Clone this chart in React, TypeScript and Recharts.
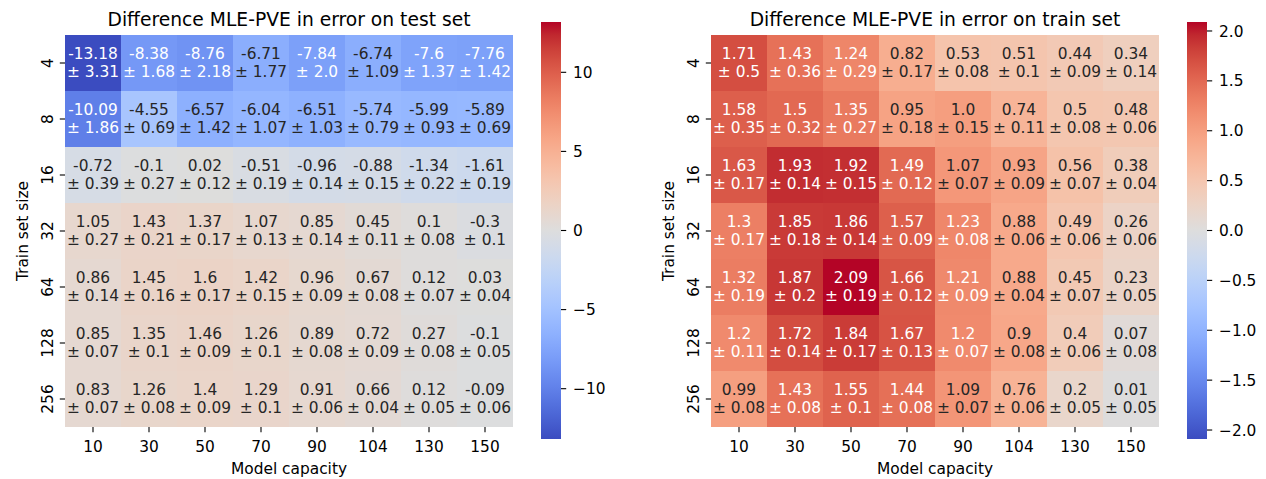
import React from "react";
import { ScatterChart, Scatter, XAxis, YAxis, BarChart, Bar } from "recharts";

const capacities = [10, 30, 50, 70, 90, 104, 130, 150];
const trainSizes = [4, 8, 16, 32, 64, 128, 256];

// rows = train set size, columns = model capacity
const testMean = [
  [-13.18, -8.38, -8.76, -6.71, -7.84, -6.74, -7.6, -7.76],
  [-10.09, -4.55, -6.57, -6.04, -6.51, -5.74, -5.99, -5.89],
  [-0.72, -0.1, 0.02, -0.51, -0.96, -0.88, -1.34, -1.61],
  [1.05, 1.43, 1.37, 1.07, 0.85, 0.45, 0.1, -0.3],
  [0.86, 1.45, 1.6, 1.42, 0.96, 0.67, 0.12, 0.03],
  [0.85, 1.35, 1.46, 1.26, 0.89, 0.72, 0.27, -0.1],
  [0.83, 1.26, 1.4, 1.29, 0.91, 0.66, 0.12, -0.09],
];
const testStd = [
  [3.31, 1.68, 2.18, 1.77, 2.0, 1.09, 1.37, 1.42],
  [1.86, 0.69, 1.42, 1.07, 1.03, 0.79, 0.93, 0.69],
  [0.39, 0.27, 0.12, 0.19, 0.14, 0.15, 0.22, 0.19],
  [0.27, 0.21, 0.17, 0.13, 0.14, 0.11, 0.08, 0.1],
  [0.14, 0.16, 0.17, 0.15, 0.09, 0.08, 0.07, 0.04],
  [0.07, 0.1, 0.09, 0.1, 0.08, 0.09, 0.08, 0.05],
  [0.07, 0.08, 0.09, 0.1, 0.06, 0.04, 0.05, 0.06],
];
const trainMean = [
  [1.71, 1.43, 1.24, 0.82, 0.53, 0.51, 0.44, 0.34],
  [1.58, 1.5, 1.35, 0.95, 1.0, 0.74, 0.5, 0.48],
  [1.63, 1.93, 1.92, 1.49, 1.07, 0.93, 0.56, 0.38],
  [1.3, 1.85, 1.86, 1.57, 1.23, 0.88, 0.49, 0.26],
  [1.32, 1.87, 2.09, 1.66, 1.21, 0.88, 0.45, 0.23],
  [1.2, 1.72, 1.84, 1.67, 1.2, 0.9, 0.4, 0.07],
  [0.99, 1.43, 1.55, 1.44, 1.09, 0.76, 0.2, 0.01],
];
const trainStd = [
  [0.5, 0.36, 0.29, 0.17, 0.08, 0.1, 0.09, 0.14],
  [0.35, 0.32, 0.27, 0.18, 0.15, 0.11, 0.08, 0.06],
  [0.17, 0.14, 0.15, 0.12, 0.07, 0.09, 0.07, 0.04],
  [0.17, 0.18, 0.14, 0.09, 0.08, 0.06, 0.06, 0.06],
  [0.19, 0.2, 0.19, 0.12, 0.09, 0.04, 0.07, 0.05],
  [0.11, 0.14, 0.17, 0.13, 0.07, 0.08, 0.06, 0.08],
  [0.08, 0.08, 0.1, 0.08, 0.07, 0.06, 0.05, 0.05],
];

const testBarTicks = [-10, -5, 0, 5, 10];
const trainBarTicks = [-2, -1.5, -1, -0.5, 0, 0.5, 1, 1.5, 2];

const FONT = "'DejaVu Sans', sans-serif";
const FS = 15.4;
const TITLE_FS = 18.7;
const H = 479;
const TOP = 35;
const PLOT_W = 448;
const PLOT_H = 392;
const Y_AXIS_W = 65;
const X_AXIS_H = 52;
const RIGHT_PAD = 17;

// matplotlib coolwarm, 33 evenly spaced samples
const COOLWARM = [
  [0.2298, 0.2987, 0.7537], [0.2662, 0.3531, 0.8015], [0.3039, 0.4065, 0.845],
  [0.3428, 0.4588, 0.8837], [0.383, 0.5094, 0.9174], [0.4244, 0.5581, 0.9456],
  [0.4667, 0.6046, 0.9682], [0.5096, 0.6483, 0.9848], [0.553, 0.6889, 0.9954],
  [0.5963, 0.7261, 0.9998], [0.6392, 0.7596, 0.9982], [0.6813, 0.789, 0.9904],
  [0.7222, 0.814, 0.9766], [0.7615, 0.8343, 0.9569], [0.7987, 0.8498, 0.9317],
  [0.8335, 0.8602, 0.9011], [0.8654, 0.8654, 0.8654], [0.8978, 0.8489, 0.8209],
  [0.9241, 0.8274, 0.7745], [0.9445, 0.8009, 0.7267], [0.9589, 0.7698, 0.678],
  [0.9673, 0.7341, 0.6288], [0.97, 0.6943, 0.5794], [0.9668, 0.6504, 0.5303],
  [0.958, 0.6028, 0.4818], [0.9437, 0.5518, 0.4342], [0.9239, 0.4973, 0.388],
  [0.899, 0.4396, 0.3432], [0.8692, 0.3783, 0.3003], [0.8346, 0.3129, 0.2593],
  [0.7956, 0.2413, 0.2205], [0.7525, 0.1572, 0.1841], [0.7057, 0.0156, 0.1502],
];

function coolwarm(t: number) {
  const u = Math.max(0, Math.min(1, t)) * 32;
  const i = Math.min(31, Math.floor(u));
  const f = u - i;
  const a = COOLWARM[i];
  const b = COOLWARM[i + 1];
  return [0, 1, 2].map((k) => a[k] + (b[k] - a[k]) * f);
}

const toRgb = (c: number[]) => `rgb(${c.map((v) => Math.round(v * 255)).join(",")})`;

// seaborn picks the annotation colour from the cell luminance
function textColor(c: number[]) {
  const lin = c.map((v) => (v <= 0.03928 ? v / 12.92 : Math.pow((v + 0.055) / 1.055, 2.4)));
  const lum = 0.2126 * lin[0] + 0.7152 * lin[1] + 0.0722 * lin[2];
  return lum > 0.408 ? "#262626" : "#ffffff";
}

const fmt = (v: number) => (Number.isInteger(v) ? v.toFixed(1) : String(v));
const minus = (s: string) => s.replace("-", "\u2212");

function Heatmap({ title, mean, std, left }: any) {
  const vlim = Math.max(...mean.flat().map((v: number) => Math.abs(v)));
  const cells = mean.flatMap((row: number[], i: number) =>
    row.map((m, j) => ({ x: j, y: i, mean: m, std: std[i][j] }))
  );
  const cw = PLOT_W / capacities.length;
  const ch = PLOT_H / trainSizes.length;
  const midX = Y_AXIS_W + PLOT_W / 2;
  const midY = TOP + PLOT_H / 2;
  const colorOf = (v: number) => coolwarm((v + vlim) / (2 * vlim));

  const cellShape = (p: any) => (
    <rect
      x={p.cx - cw / 2}
      y={p.cy - ch / 2}
      width={cw}
      height={ch}
      fill={toRgb(colorOf(p.payload.mean))}
    />
  );

  const labelShape = (p: any) => {
    const fill = textColor(colorOf(p.payload.mean));
    return (
      <text textAnchor="middle" fill={fill} fontSize={FS} fontFamily={FONT}>
        <tspan x={p.cx} y={p.cy - 4.1}>{fmt(p.payload.mean)}</tspan>
        <tspan x={p.cx} y={p.cy + 14.3}>{"± " + fmt(p.payload.std)}</tspan>
      </text>
    );
  };

  const xTick = (p: any) => (
    <g>
      <line x1={p.x} x2={p.x} y1={TOP + PLOT_H} y2={TOP + PLOT_H + 5.2} stroke="#000" strokeWidth={1.1} />
      <text x={p.x} y={TOP + PLOT_H + 24.5} textAnchor="middle" fontSize={FS} fontFamily={FONT} fill="#000">
        {capacities[p.payload.value]}
      </text>
    </g>
  );

  const yTick = (p: any) => (
    <g>
      <line x1={Y_AXIS_W - 5.2} x2={Y_AXIS_W} y1={p.y} y2={p.y} stroke="#000" strokeWidth={1.1} />
      <text
        x={Y_AXIS_W - 12.5}
        y={p.y}
        transform={`rotate(-90, ${Y_AXIS_W - 12.5}, ${p.y})`}
        textAnchor="middle"
        fontSize={FS}
        fontFamily={FONT}
        fill="#000"
      >
        {trainSizes[p.payload.value]}
      </text>
    </g>
  );

  return (
    <div style={{ position: "absolute", left, top: 0 }}>
      <ScatterChart
        width={Y_AXIS_W + PLOT_W + RIGHT_PAD}
        height={H}
        margin={{ top: TOP, right: RIGHT_PAD, bottom: 0, left: 0 }}
      >
        <XAxis
          type="number"
          dataKey="x"
          domain={[-0.5, capacities.length - 0.5]}
          ticks={capacities.map((_, j) => j)}
          interval={0}
          height={X_AXIS_H}
          axisLine={false}
          tickLine={false}
          tickSize={0}
          tickMargin={0}
          tick={xTick}
        />
        <YAxis
          type="number"
          dataKey="y"
          domain={[-0.5, trainSizes.length - 0.5]}
          ticks={trainSizes.map((_, i) => i)}
          interval={0}
          reversed
          width={Y_AXIS_W}
          axisLine={false}
          tickLine={false}
          tickSize={0}
          tickMargin={0}
          tick={yTick}
        />
        <Scatter data={cells} shape={cellShape} isAnimationActive={false} />
        <Scatter data={cells} shape={labelShape} isAnimationActive={false} />
        <text x={midX} y={26} textAnchor="middle" fontSize={TITLE_FS} fontFamily={FONT} fill="#000">
          {title}
        </text>
        <text x={midX} y={473.5} textAnchor="middle" fontSize={FS} fontFamily={FONT} fill="#000">
          Model capacity
        </text>
        <text
          x={27.5}
          y={midY}
          transform={`rotate(-90, 27.5, ${midY})`}
          textAnchor="middle"
          fontSize={FS}
          fontFamily={FONT}
          fill="#000"
        >
          Train set size
        </text>
      </ScatterChart>
    </div>
  );
}

function Colorbar({ mean, ticks, decimals, left, id }: any) {
  const vlim = Math.max(...mean.flat().map((v: number) => Math.abs(v)));
  const stops = Array.from({ length: 33 }, (_, k) => k / 32);
  const tick = (p: any) => (
    <g>
      <line x1={p.x} x2={p.x + 5.2} y1={p.y} y2={p.y} stroke="#000" strokeWidth={1.1} />
      <text x={p.x + 12} y={p.y + 5.6} textAnchor="start" fontSize={FS} fontFamily={FONT} fill="#000">
        {minus(p.payload.value.toFixed(decimals))}
      </text>
    </g>
  );
  return (
    <div style={{ position: "absolute", left, top: 0 }}>
      <BarChart
        width={70}
        height={H}
        data={[{ name: "cb", range: [-vlim, vlim] }]}
        margin={{ top: 22, right: 0, bottom: 40, left: 0 }}
        barCategoryGap={0}
      >
        <defs>
          <linearGradient id={id} x1="0" y1="0" x2="0" y2="1">
            {stops.map((s) => (
              <stop key={s} offset={s} stopColor={toRgb(coolwarm(1 - s))} />
            ))}
          </linearGradient>
        </defs>
        <XAxis dataKey="name" hide />
        <YAxis
          orientation="right"
          type="number"
          domain={[-vlim, vlim]}
          ticks={ticks}
          interval={0}
          width={50}
          axisLine={false}
          tickLine={false}
          tickSize={0}
          tickMargin={0}
          tick={tick}
        />
        <Bar dataKey="range" fill={`url(#${id})`} isAnimationActive={false} />
      </BarChart>
    </div>
  );
}

export default function App() {
  return (
    <div style={{ position: "absolute", left: 0, top: 0, width: 1266, height: H, background: "#fff", fontFamily: FONT }}>
      <Heatmap title="Difference MLE-PVE in error on test set" mean={testMean} std={testStd} left={0} />
      <Colorbar mean={testMean} ticks={testBarTicks} decimals={0} left={541} id="cbTest" />
      <Heatmap title="Difference MLE-PVE in error on train set" mean={trainMean} std={trainStd} left={646} />
      <Colorbar mean={trainMean} ticks={trainBarTicks} decimals={1} left={1187} id="cbTrain" />
    </div>
  );
}
